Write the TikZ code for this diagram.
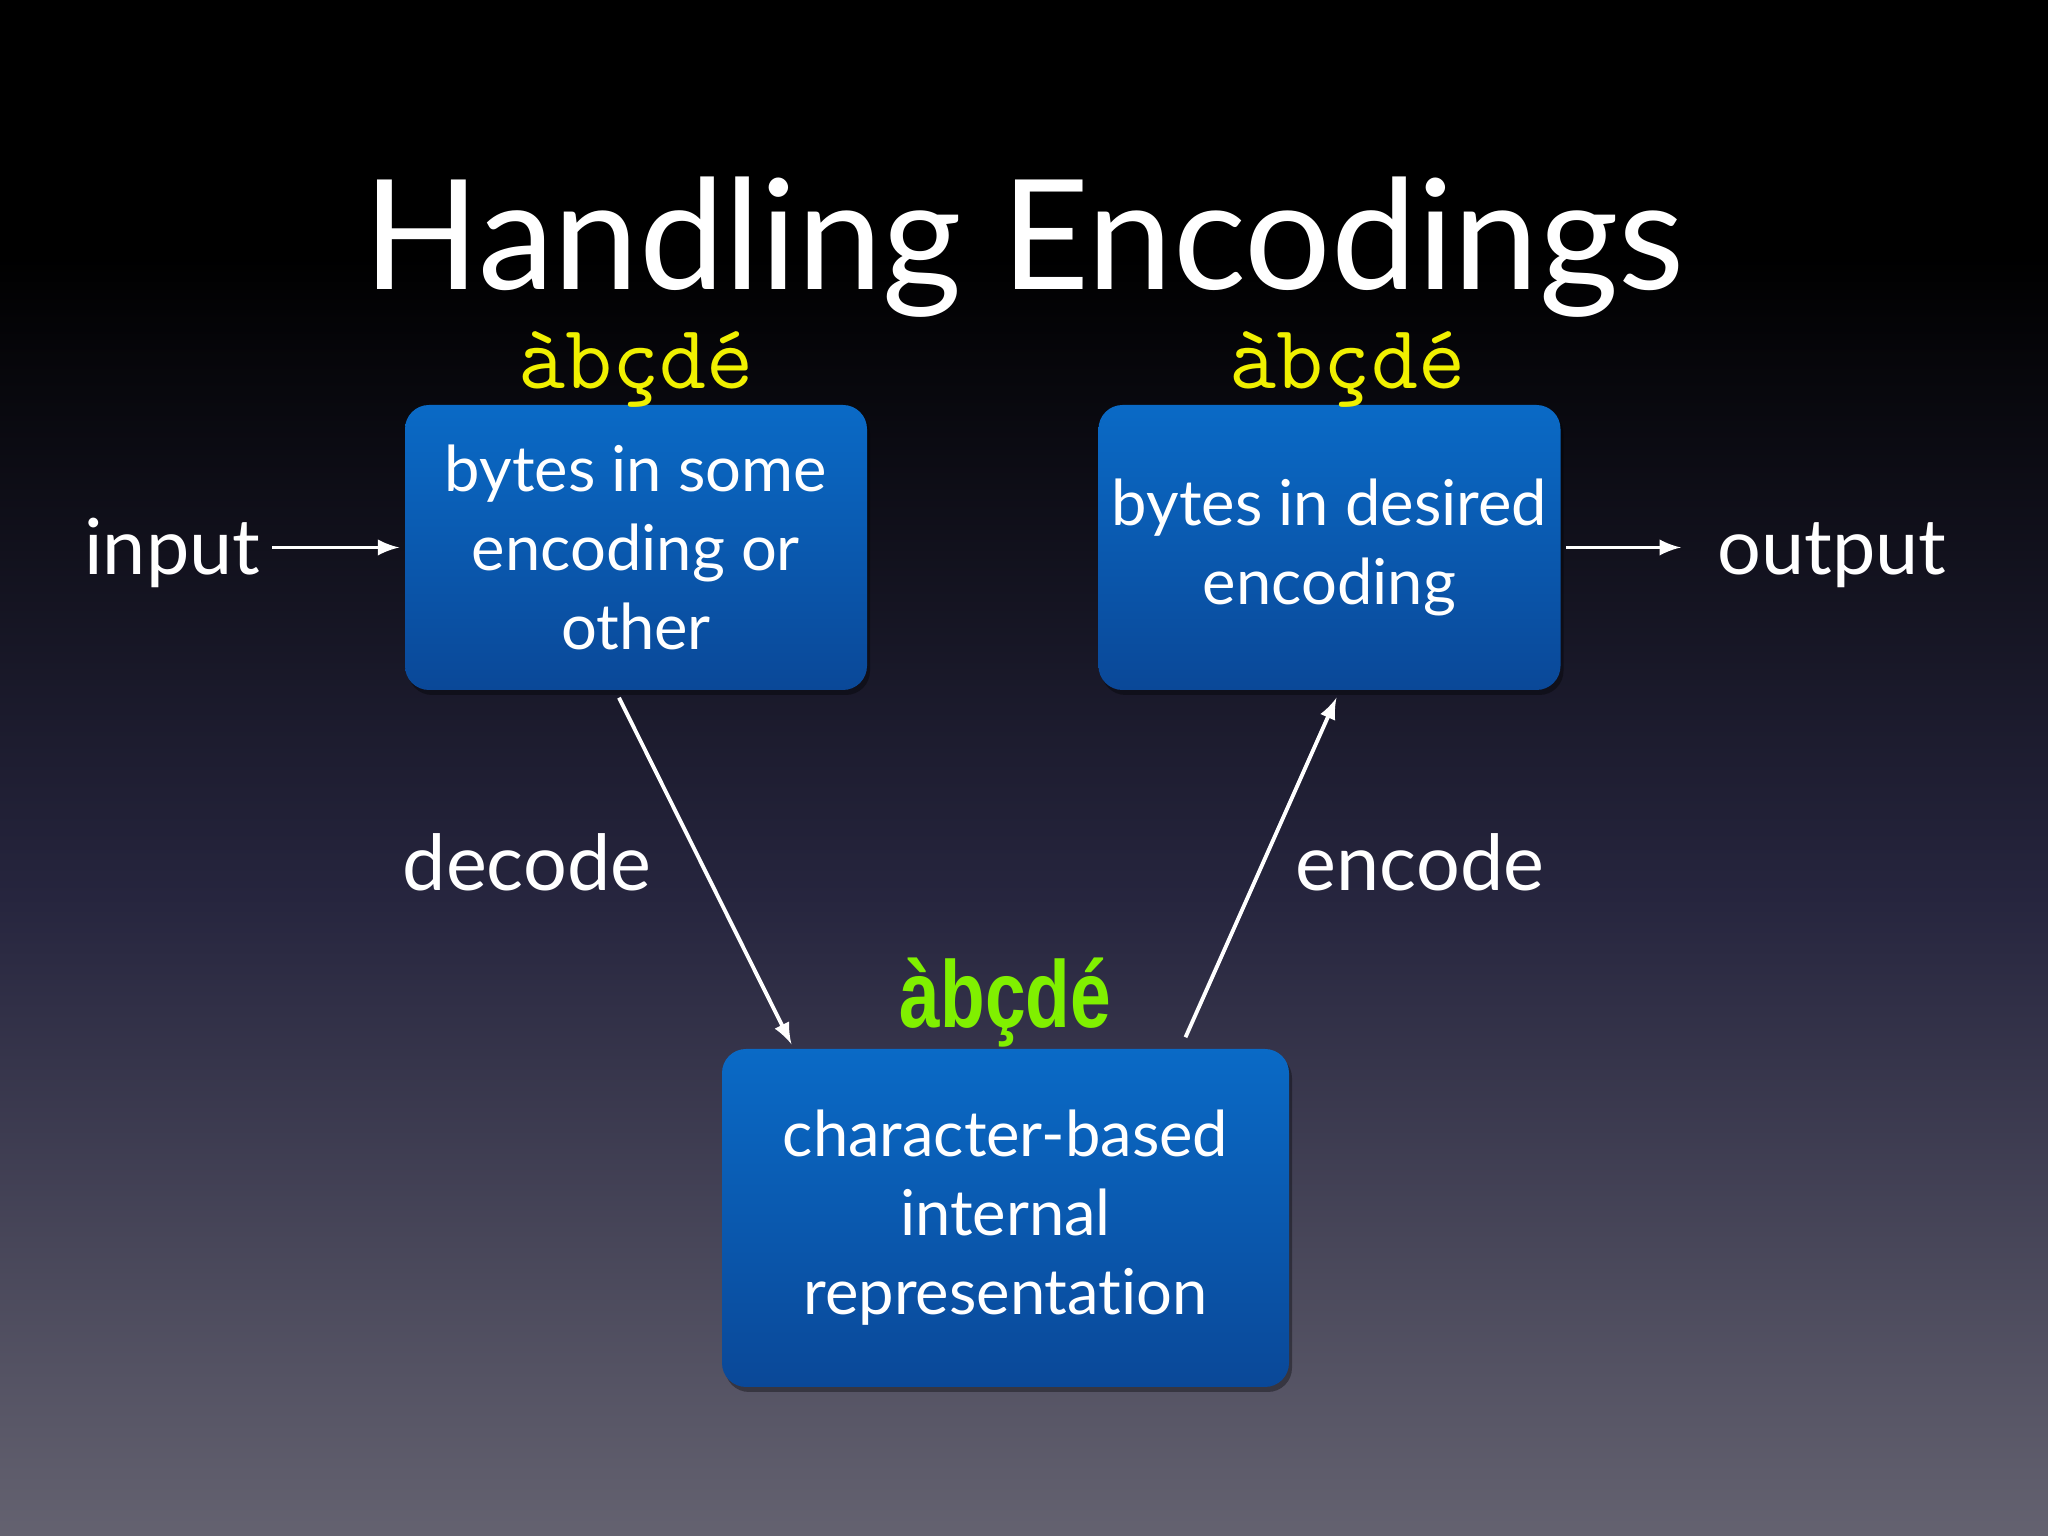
\documentclass[tikz,border=0pt]{standalone}
\usepackage{fontspec,graphicx}
\setmainfont{Lato}[Ligatures=NoCommon]
\newfontfamily\charsbold{Liberation Sans}
\usetikzlibrary{calc,positioning,shadows}

\definecolor{boxtop}{RGB}{10,106,198}
\definecolor{boxbot}{RGB}{10,72,152}
\definecolor{bgmid}{RGB}{38,37,62}
\definecolor{bgbot}{RGB}{100,98,112}
\definecolor{charsyellow}{RGB}{240,240,0}
\definecolor{charsgreen}{RGB}{128,240,0}

\begin{document}
\begin{tikzpicture}[
  block/.style={rounded corners=0.24cm,top color=boxtop,bottom color=boxbot,
    text=white,align=center,font=\fontsize{18}{22.5}\selectfont,
    drop shadow={fill=black,opacity=0.35,shadow xshift=0.03cm,shadow yshift=-0.05cm}},
  word/.style={text=white,inner sep=0pt,font=\fontsize{22}{26}\selectfont},
  chars/.style={text=charsyellow,inner sep=0pt,anchor=base,font=\ttfamily\fontsize{26}{28}\selectfont},
  arr/.style={draw=white,line width=1.1pt,-latex}]

  % background
  \useasboundingbox (0,0) rectangle (20.48,15.36);
  \fill[black] (0,12.8) rectangle (20.48,15.36);
  \shade[top color=black,bottom color=bgbot,middle color=bgmid] (0,0) rectangle (20.48,12.8);

  \node[text=white,anchor=base,font=\fontsize{43.5}{48}\selectfont] (title) at (10.24,12.46) {Handling Encodings};

  % boxes
  \node[block,minimum width=4.62cm,minimum height=2.85cm] (srcbox) at (6.36,9.885) {bytes in some\\encoding or\\other};
  \node[block,minimum width=4.62cm,minimum height=2.85cm] (dstbox) at (13.295,9.885) {bytes in desired\\encoding};
  \node[block,minimum width=5.67cm,minimum height=3.38cm] (intbox) at (10.055,3.18) {character-based\\internal\\representation};

  \node[chars] (srcchars) at ([yshift=0.16cm]srcbox.north) {àbçdé};
  \node[chars] (dstchars) at ([xshift=0.18cm,yshift=0.16cm]dstbox.north) {àbçdé};
  \node[anchor=base,inner sep=0pt,text=charsgreen,font=\charsbold\bfseries\fontsize{27}{30}\selectfont] (intchars) at ([yshift=0.21cm]intbox.north) {\scalebox{0.77}[1]{àbçdé}};

  \node[word,anchor=base east] (input) at (2.61,9.61) {input};
  \node[word,anchor=base west] (output) at (17.17,9.61) {output};
  \node[word,anchor=base] (decode) at (5.27,6.45) {decode};
  \node[word,anchor=base] (encode) at (14.2,6.45) {encode};

  \draw[arr,shorten <=0.11cm,shorten >=0.05cm] (srcbox.west -| input.east) -- (srcbox.west);
  \draw[arr,shorten <=0.05cm,shorten >=0.36cm] (dstbox.east) -- (dstbox.east -| output.west);
  \draw[arr] ($(srcbox.south)+(-0.17,-0.07)$) -- ($(intbox.north)+(-2.14,0.04)$);
  \draw[arr] ($(intbox.north)+(1.8,0.11)$) -- ($(dstbox.south)+(0.07,-0.07)$);
\end{tikzpicture}
\end{document}
